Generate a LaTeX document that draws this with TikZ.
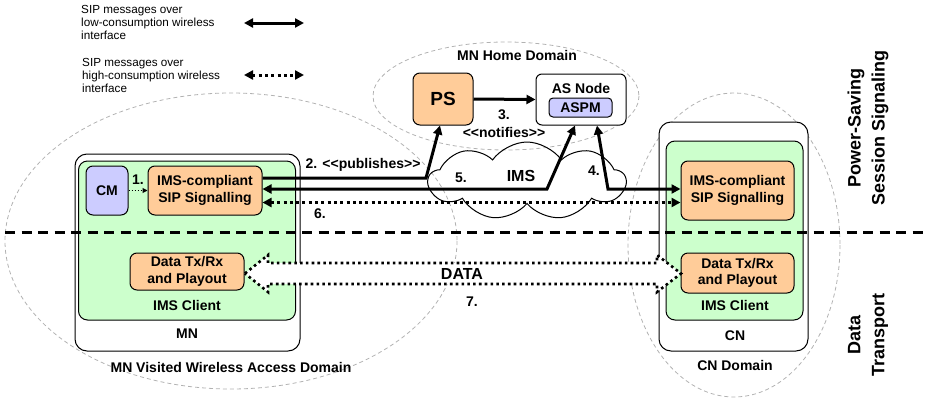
\documentclass[tikz,border=0pt]{standalone}
\usepackage{fontspec}
\setmainfont{Liberation Sans}
\usetikzlibrary{arrows.meta,shapes.symbols}
\definecolor{orangefill}{HTML}{FFCC99}
\definecolor{greenfill}{HTML}{CCFFCC}
\definecolor{lavfill}{HTML}{CCCCFF}
\tikzset{
  grayell/.style={draw=black!30, dash pattern=on 4pt off 3pt, line width=0.8pt},
  box/.style={draw=black, line width=1pt, inner sep=0pt, align=center},
  outerbox/.style={box, rounded corners=12pt, fill=white},
  clientbox/.style={box, rounded corners=9pt, fill=greenfill},
  orbox/.style={box, rounded corners=7pt, fill=orangefill},
  lavbox/.style={box, rounded corners=7pt, fill=lavfill},
  lbl/.style={inner sep=0pt, align=center},
  solidln/.style={line width=3pt},
  dotln/.style={line width=3pt, dash pattern=on 3pt off 3.3pt},
  tipboth/.style={{Triangle[length=9pt,width=9pt]}-{Triangle[length=9pt,width=9pt]}},
  tipone/.style={-{Triangle[length=9pt,width=9pt]}},
  sepline/.style={line width=3pt, dash pattern=on 10pt off 6.5pt},
  legtext/.style={inner sep=0pt, align=left, anchor=west, font=\mdseries\fontsize{11.7}{13}\selectfont},
  sidetext/.style={inner sep=0pt, align=center, rotate=90, font=\bfseries\fontsize{18}{24}\selectfont}
}
\begin{document}
\begin{tikzpicture}[x=1pt,y=-1pt, font=\bfseries\fontsize{14}{16.5}\selectfont]
\useasboundingbox (0,0) rectangle (927,402);

% domain ellipses
\draw[grayell] (231,241) ellipse [x radius=226, y radius=148];
\draw[grayell] (506,96) ellipse [x radius=133, y radius=54];
\draw[grayell] (734,245) ellipse [x radius=106, y radius=152];

% IMS cloud
\node[cloud, draw, line width=1pt, cloud puffs=9, cloud puff arc=110, aspect=2.5, minimum width=197, minimum height=78, inner sep=0pt] (ims) at (527,181) {};

% legend
\node[legtext] (leg1) at (81,22) {SIP messages over\\low-consumption wireless\\interface};
\node[legtext] (leg2) at (82,75) {SIP messages over\\high-consumption wireless\\interface};
\coordinate (l1a) at (244,23);
\coordinate (l1b) at (304,23);
\coordinate (l2a) at (244,75);
\coordinate (l2b) at (304,75);
\draw[solidln, tipboth] (l1a) -- (l1b);
\draw[dotln, tipboth] (l2a) -- (l2b);

% MN side
\node[outerbox, minimum width=225, minimum height=197] (mnbox) at (187.5,252.5) {};
\node[clientbox, minimum width=217, minimum height=159] (mnclient) at (187,240.5) {};
\node[lavbox, minimum width=42, minimum height=49] (cm) at (107,190.5) {CM};
\node[orbox, minimum width=114, minimum height=49] (msip) at (205,190.5) {IMS-compliant\\SIP Signalling};
\node[orbox, minimum width=114, minimum height=37] (mdata) at (187,271.5) {Data Tx/Rx\\and Playout};
\node[lbl] (mnclientlbl) at (187,305) {IMS Client};
\node[lbl] (mnlbl) at (187,334) {MN};
\node[lbl] (mndomlbl) at (231,367) {MN Visited Wireless Access Domain};

% home domain
\node[orbox, minimum width=60, minimum height=52, font=\bfseries\fontsize{19}{22}\selectfont] (ps) at (443,99) {PS};
\node[box, rounded corners=6pt, fill=white, minimum width=90, minimum height=51] (as) at (581,99.5) {};
\node[lbl] (aslbl) at (581,88) {AS Node};
\node[lavbox, rounded corners=4pt, minimum width=63, minimum height=19] (aspm) at (580.5,107.5) {ASPM};
\node[lbl] (homelbl) at (517,55) {MN Home Domain};

% CN side
\node[outerbox, minimum width=149, minimum height=229] (cnbox) at (733.5,236.5) {};
\node[clientbox, minimum width=137, minimum height=179] (cnclient) at (734.5,230.5) {};
\node[orbox, minimum width=113, minimum height=59] (csip) at (737.5,190.5) {IMS-compliant\\SIP Signalling};
\node[orbox, minimum width=113, minimum height=40] (cdata) at (737.5,273) {Data Tx/Rx\\and Playout};
\node[lbl] (cnclientlbl) at (735,305) {IMS Client};
\node[lbl] (cnlbl) at (735,336) {CN};
\node[lbl] (cndomlbl) at (735,365) {CN Domain};

% separator
\coordinate (sepl) at (5,232);
\coordinate (sepr) at (927,232);
\draw[sepline] (sepl) -- (sepr);

% DATA hollow double arrow
\coordinate (dtl) at (245,273.5);
\coordinate (dtr) at (681,273.5);
\draw[line width=2.6pt, dash pattern=on 2.6pt off 3.2pt, fill=white]
  (dtl) -- (268,255) -- (268,263) -- (657,263) -- (657,255) -- (dtr)
  -- (657,292) -- (657,284) -- (268,284) -- (268,292) -- cycle;
\node[lbl, font=\bfseries\fontsize{16}{18}\selectfont] (datalbl) at (462,274) {DATA};
\node[lbl] (n7) at (472,302) {7.};

% signalling connectors
\draw[line width=1pt, dash pattern=on 1.5pt off 1.5pt, -{Triangle[length=5pt,width=5pt]}] (cm.east) -- (msip.west);
\node[lbl] (n1) at (138,180) {1.};
\coordinate (c2) at (426,178);
\draw[solidln, tipone] ([yshift=12.5pt]msip.east) -- (c2) -- ([xshift=-3pt]ps.south);
\node[lbl] (n2) at (363,165) {2. <{}<publishes>{}>};
\draw[solidln, tipone] (ps.east) -- (as.west);
\node[lbl] (n3) at (504,115) {3.};
\node[lbl] (n3b) at (504,132) {<{}<notifies>{}>};
\coordinate (c5) at (547,189);
\draw[solidln, tipboth] ([yshift=1.5pt]msip.east) -- (c5) -- ([xshift=-6pt]as.south);
\node[lbl] (n5) at (461,178) {5.};
\node[lbl, font=\bfseries\fontsize{16}{18}\selectfont] (imslbl) at (521,176) {IMS};
\coordinate (c4) at (608,189);
\draw[solidln, tipboth] ([xshift=16pt]as.south) -- (c4) -- ([yshift=1.5pt]csip.west);
\node[lbl] (n4) at (594,171) {4.};
\draw[dotln, tipboth] ([yshift=-12pt]msip.east) -- ([yshift=-12pt]csip.west);
\node[lbl] (n6) at (320,214) {6.};

% side titles
\node[sidetext] (sidetop) at (868,128) {Power-Saving\\Session Signaling};
\node[sidetext] (sidebot) at (868,335) {Data\\Transport};
\end{tikzpicture}
\end{document}
